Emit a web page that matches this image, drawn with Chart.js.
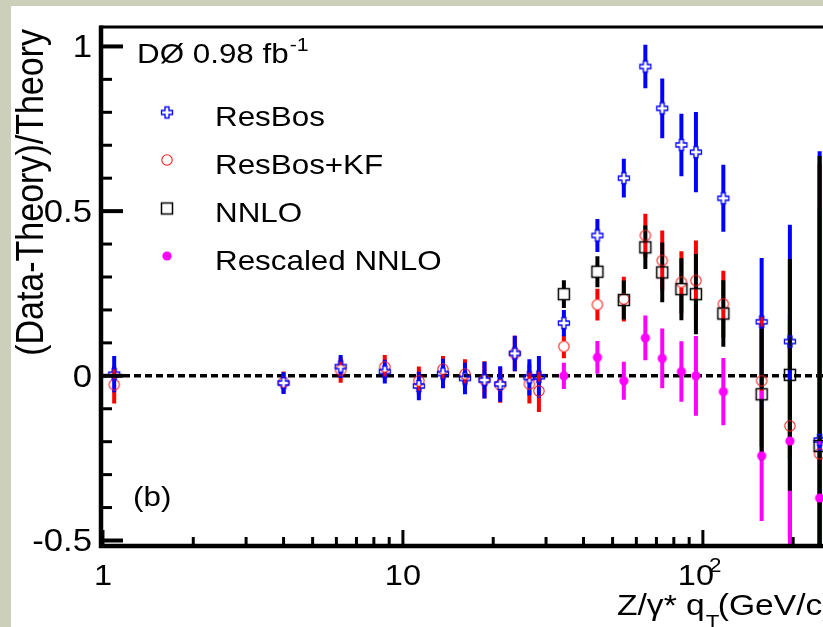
<!DOCTYPE html>
<html>
<head>
<meta charset="utf-8">
<script src="https://cdn.jsdelivr.net/npm/chart.js@4/dist/chart.umd.min.js"></script>
<style>
  html, body { margin: 0; padding: 0; background: #ccd0bb; overflow: hidden; }
  #wrap { position: relative; width: 823px; height: 627px; overflow: hidden; }
  canvas { display: block; }
</style>
</head>
<body>
<div id="wrap"><canvas id="c" width="870" height="627"></canvas></div>
<script>
// Z/gamma* transverse momentum bins (GeV/c)
const qt = [1.09, 4.0, 6.2, 8.7, 11.3, 13.6, 16.1, 18.7, 21.1, 23.6, 26.4, 28.4,
            34.4, 44.5, 54.5, 64.3, 73.2, 84.8, 94.8, 117, 157, 195, 245];

// (Data-Theory)/Theory and uncertainties for each prediction
const resbos    = [0.005, -0.022, 0.028, 0.013, -0.031, 0.007, -0.008, -0.013, -0.025, 0.068, -0.005, -0.003,
                   0.160, 0.426, 0.600, 0.939, 0.812, 0.701, 0.679, 0.539, 0.164, 0.104, -0.195];
const resbosErr = [0.055, 0.033, 0.035, 0.036, 0.043, 0.045, 0.048, 0.056, 0.054, 0.054, 0.055, 0.063,
                   0.040, 0.050, 0.059, 0.066, 0.091, 0.095, 0.122, 0.102, 0.194, 0.355, 0.877];

const resbosKF    = [-0.027, -0.020, 0.017, 0.027, -0.015, 0.020, 0.005, -0.012, -0.028, 0.068, -0.025, -0.046,
                     0.089, 0.216, 0.233, 0.426, 0.350, 0.284, 0.289, 0.218, -0.015, -0.152, -0.237];
const resbosKFErr = [0.057, 0.033, 0.038, 0.036, 0.043, 0.040, 0.045, 0.056, 0.054, 0.054, 0.059, 0.064,
                     0.036, 0.048, 0.068, 0.066, 0.091, 0.094, 0.122, 0.101, 0.200, 0.340, 0.880];

// NNLO comparisons exist only above ~30 GeV/c
const nnlo    = [null, null, null, null, null, null, null, null, null, null, null, null,
                 0.248, 0.316, 0.230, 0.390, 0.314, 0.263, 0.248, 0.189, -0.056, 0.003, -0.213];
const nnloErr = [null, null, null, null, null, null, null, null, null, null, null, null,
                 0.042, 0.047, 0.059, 0.066, 0.091, 0.094, 0.122, 0.101, 0.200, 0.352, 0.880];

const rescaled    = [null, null, null, null, null, null, null, null, null, null, null, null,
                     0.000, 0.056, -0.015, 0.115, 0.053, 0.013, 0.000, -0.048, -0.243, -0.198, -0.371];
const rescaledErr = [null, null, null, null, null, null, null, null, null, null, null, null,
                     0.040, 0.050, 0.058, 0.068, 0.091, 0.092, 0.121, 0.102, 0.198, 0.360, 0.880];

const seriesNames = ['ResBos', 'ResBos+KF', 'NNLO', 'Rescaled NNLO'];

// axis ticks
const xTickValues = [1, 10, 100];
const xTickLabels = ['1', '10', '10^2'];
const yTickValues = [-0.5, 0, 0.5, 1];
const yTickLabels = ['-0.5', '0', '0.5', '1'];

const X_MIN = 0.985, X_MAX = 300;
const Y_MIN = -0.5167, Y_MAX = 1.059;

const FONT = '"Liberation Sans", Arial, Helvetica, sans-serif';
const SX = 1.12;   // slightly wide lettering

function toPoints(vals, errs) {
  const out = [];
  qt.forEach((x, i) => { if (vals[i] !== null) out.push({ x: x, y: vals[i], err: errs[i] }); });
  return out;
}

// ---- marker images ----
function markerCanvas(kind, color) {
  const s = 16, c = document.createElement('canvas');
  c.width = s; c.height = s;
  const g = c.getContext('2d');
  g.translate(s / 2, s / 2);
  if (kind === 'opencross') {
    const a = 5.5, t = 2;
    g.beginPath();
    g.moveTo(-t, -a); g.lineTo(t, -a); g.lineTo(t, -t); g.lineTo(a, -t); g.lineTo(a, t);
    g.lineTo(t, t); g.lineTo(t, a); g.lineTo(-t, a); g.lineTo(-t, t); g.lineTo(-a, t);
    g.lineTo(-a, -t); g.lineTo(-t, -t); g.closePath();
    g.strokeStyle = color; g.lineWidth = 1.3; g.stroke();
  } else if (kind === 'opencircle') {
    g.beginPath(); g.arc(0, 0, 5.2, 0, Math.PI * 2);
    g.strokeStyle = color; g.lineWidth = 1.1; g.stroke();
  } else if (kind === 'opensquare') {
    g.strokeStyle = color; g.lineWidth = 1.5; g.strokeRect(-5.5, -5.5, 11, 11);
  } else {
    g.beginPath(); g.arc(0, 0, 4.6, 0, Math.PI * 2);
    g.fillStyle = color; g.fill();
  }
  return c;
}

const styles = [
  { color: '#0000ff', marker: markerCanvas('opencross', '#0000ff'), gap: 5.5 },
  { color: '#ff0000', marker: markerCanvas('opencircle', '#ff2020'), gap: 5.2 },
  { color: '#000000', marker: markerCanvas('opensquare', '#000000'), gap: 5.5 },
  { color: '#ff00ff', marker: markerCanvas('filled', '#ff00ff'), gap: 0 }
];

const seriesData = [
  toPoints(resbos, resbosErr),
  toPoints(resbosKF, resbosKFErr),
  toPoints(nnlo, nnloErr),
  toPoints(rescaled, rescaledErr)
];

// error bar drawing order (later ones lie on top)
const barOrder = [1, 3, 0, 2];

function drawText(ctx, s, x, y, size, align, sx) {
  ctx.save();
  ctx.font = size + 'px ' + FONT;
  ctx.textAlign = align || 'left';
  ctx.textBaseline = 'alphabetic';
  ctx.translate(x, y);
  ctx.scale(sx || SX, 1);
  ctx.fillText(s, 0, 0);
  const w = ctx.measureText(s).width * (sx || SX);
  ctx.restore();
  return w;
}

const rootStyle = {
  id: 'rootStyle',
  beforeDraw(chart) {
    const ctx = chart.ctx;
    ctx.save();
    ctx.fillStyle = '#ccd0bb';
    ctx.fillRect(0, 0, chart.width, chart.height);
    ctx.fillStyle = '#ffffff';
    ctx.fillRect(11, 6, chart.width - 11, chart.height - 6);
    ctx.restore();
  },
  beforeDatasetsDraw(chart) {
    const ctx = chart.ctx, a = chart.chartArea;
    const xs = chart.scales.x, ys = chart.scales.y;
    ctx.save();
    ctx.beginPath(); ctx.rect(a.left, a.top, a.right - a.left, a.bottom - a.top); ctx.clip();
    // zero reference line
    const y0 = ys.getPixelForValue(0);
    ctx.strokeStyle = '#000'; ctx.lineWidth = 3.5; ctx.setLineDash([7, 4]);
    ctx.beginPath(); ctx.moveTo(a.left, y0); ctx.lineTo(a.right, y0); ctx.stroke();
    ctx.setLineDash([]);
    // error bars
    ctx.lineWidth = 4; ctx.lineCap = 'butt';
    barOrder.forEach(di => {
      const st = styles[di];
      ctx.strokeStyle = st.color;
      chart.data.datasets[di].data.forEach(p => {
        const px = xs.getPixelForValue(p.x);
        const py = ys.getPixelForValue(p.y);
        const top = ys.getPixelForValue(p.y + p.err);
        const bot = ys.getPixelForValue(p.y - p.err);
        ctx.beginPath();
        ctx.moveTo(px, top); ctx.lineTo(px, py - st.gap);
        ctx.moveTo(px, py + st.gap); ctx.lineTo(px, bot);
        ctx.stroke();
      });
    });
    ctx.restore();
  },
  afterDatasetsDraw(chart) {
    const ctx = chart.ctx, a = chart.chartArea;
    const xs = chart.scales.x, ys = chart.scales.y;
    ctx.save();
    ctx.strokeStyle = '#000'; ctx.fillStyle = '#000';
    // frame
    ctx.lineWidth = 3;
    ctx.beginPath(); ctx.moveTo(a.left - 1, a.top); ctx.lineTo(chart.width, a.top); ctx.stroke();
    ctx.lineWidth = 4.5;
    ctx.beginPath(); ctx.moveTo(a.left, a.top - 1.5); ctx.lineTo(a.left, a.bottom + 2); ctx.stroke();
    ctx.beginPath(); ctx.moveTo(a.left - 2, a.bottom); ctx.lineTo(chart.width, a.bottom); ctx.stroke();

    // y ticks (inside), every 0.1
    for (let k = -5; k <= 10; k++) {
      const v = k / 10;
      const py = ys.getPixelForValue(v);
      const major = (k % 5 === 0);
      ctx.lineWidth = major ? 4 : 3;
      ctx.beginPath(); ctx.moveTo(a.left, py); ctx.lineTo(a.left + (major ? 22 : 11), py); ctx.stroke();
    }
    // x ticks (inside), log decades
    for (let d = 1; d <= 100; d *= 10) {
      for (let m = 1; m <= 9; m++) {
        const v = d * m;
        if (v < X_MIN || v > X_MAX) continue;
        const px = xs.getPixelForValue(v);
        ctx.lineWidth = 3;
        ctx.beginPath(); ctx.moveTo(px, a.bottom); ctx.lineTo(px, a.bottom - (m === 1 ? 16 : 9)); ctx.stroke();
      }
    }

    // y tick labels
    yTickValues.forEach((v, i) => {
      drawText(ctx, yTickLabels[i], a.left - 9, ys.getPixelForValue(v) + 11, 31, 'right');
    });
    // x tick labels
    xTickValues.forEach((v, i) => {
      const px = xs.getPixelForValue(v);
      const lab = xTickLabels[i];
      if (lab.indexOf('^') > 0) {
        const parts = lab.split('^');
        drawText(ctx, parts[0], px - 7, 585, 29, 'center');
        drawText(ctx, parts[1], px + 6, 572, 20, 'left');
      } else {
        drawText(ctx, lab, px, 585, 29, 'center');
      }
    });

    // axis titles
    ctx.save();
    ctx.translate(43, 29);
    ctx.rotate(-Math.PI / 2);
    ctx.scale(1, SX);
    ctx.font = '34px ' + FONT;
    ctx.textAlign = 'right';
    ctx.fillText('(Data-Theory)/Theory', 0, 0);
    ctx.restore();

    let tx = 617;
    tx += drawText(ctx, 'Z/\u03b3* q', tx, 615, 30, 'left');
    drawText(ctx, 'T', tx + 1, 629, 20, 'left');
    tx += 13;
    drawText(ctx, '(GeV/c)', tx, 615, 30, 'left');

    // experiment label
    const w = drawText(ctx, 'D\u00d8 0.98 fb', 137, 63, 28, 'left');
    drawText(ctx, '-1', 137 + w + 1, 51, 19, 'left');

    // panel tag
    drawText(ctx, '(b)', 133, 506, 28, 'left');

    // legend
    const rows = [112.5, 160, 208.5, 256];
    chart.data.datasets.forEach((ds, i) => {
      const img = styles[i].marker;
      ctx.drawImage(img, 167 - img.width / 2, rows[i] - img.height / 2);
      drawText(ctx, ds.label, 215, rows[i] + 13.5, 28, 'left');
    });
    ctx.restore();
  }
};

new Chart(document.getElementById('c'), {
  type: 'scatter',
  data: {
    datasets: seriesNames.map((name, i) => ({
      label: name,
      data: seriesData[i],
      pointStyle: styles[i].marker,
      pointRadius: 6,
      showLine: false,
      order: [1, 2, 0, 3][i]
    }))
  },
  options: {
    responsive: false,
    animation: false,
    devicePixelRatio: 1,
    events: [],
    layout: { padding: { left: 101, top: 27, right: 24, bottom: 81 } },
    plugins: { legend: { display: false }, tooltip: { enabled: false } },
    scales: {
      x: { type: 'logarithmic', min: X_MIN, max: X_MAX, display: false },
      y: { type: 'linear', min: Y_MIN, max: Y_MAX, display: false }
    }
  },
  plugins: [rootStyle]
});
</script>
</body>
</html>
